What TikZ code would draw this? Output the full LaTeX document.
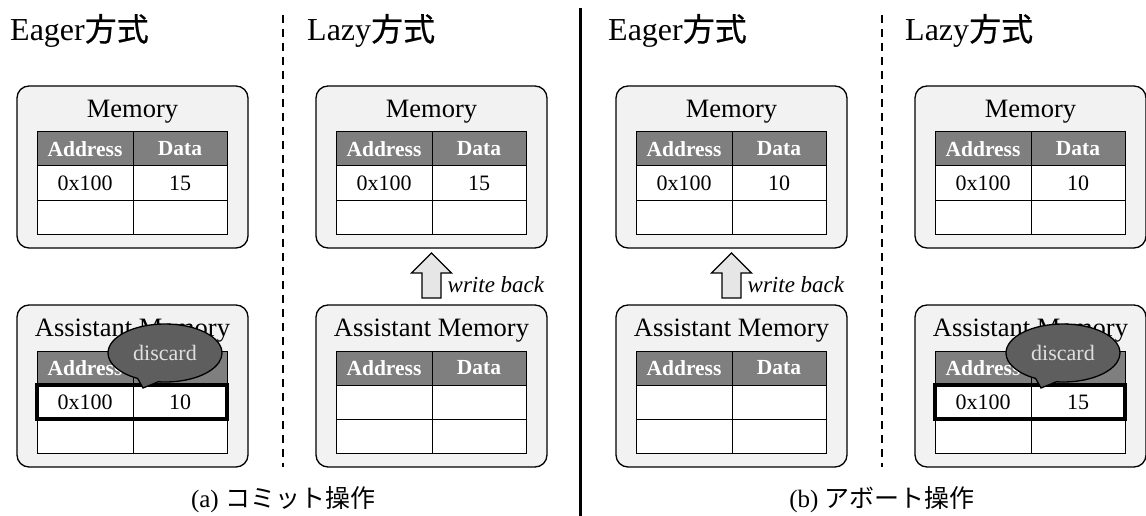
\documentclass[tikz,border=0pt]{standalone}
\usepackage{fontspec}
\setmainfont{Liberation Serif}
\newfontfamily\jp{Noto Sans CJK JP}
\newfontfamily\jph[FakeBold=0.6]{Noto Sans CJK JP}
\usetikzlibrary{calc,shapes.callouts}

\definecolor{boxfill}{HTML}{F2F2F2}
\definecolor{headfill}{HTML}{7F7F7F}
\definecolor{bubble}{HTML}{5E5E5E}
\definecolor{arrowfill}{HTML}{E6E6E6}

\tikzset{
  membox/.style={draw, line width=1.3pt, fill=boxfill, rounded corners=12pt,
    minimum width=231pt, minimum height=162pt, inner sep=0pt, outer sep=0pt},
  boxtitle/.style={font=\fontsize{26.5}{29}\selectfont, inner sep=0pt},
  cell/.style={draw, line width=1pt, fill=white, inner sep=0pt, outer sep=0pt,
    minimum height=34pt, font=\fontsize{22}{24}\selectfont},
  hcell/.style={cell, fill=headfill, text=white, font=\fontsize{21.5}{24}\selectfont\bfseries},
  discardrow/.style={draw, line width=3.5pt},
  bubblenote/.style={ellipse callout, draw, line width=1.3pt, fill=bubble,
    text=white!88!black, minimum width=114pt, minimum height=58pt, inner sep=0pt,
    callout pointer arc=22, font=\fontsize{22}{24}\selectfont},
  blockarrow/.style={draw, line width=1.2pt, fill=arrowfill, line join=miter},
  wblabel/.style={font=\fontsize{23}{26}\selectfont\itshape, inner sep=0pt},
  headline/.style={font=\fontsize{32}{34}\selectfont, inner sep=0pt},
  caption/.style={font=\fontsize{25}{28}\selectfont, inner sep=0pt},
  sepdash/.style={line width=2pt, dash pattern=on 8pt off 6pt},
  sepsolid/.style={line width=3pt},
}

% one memory block: #1 name, #2 left, #3 top, #4 title, #5 address, #6 data
\newcommand{\memunit}[6]{%
  \node[membox, anchor=north west] (#1) at (#2,#3) {};
  \node[boxtitle] (#1-t) at ($(#1.north)+(0,26)$) {#4};
  \node[hcell, anchor=north west, minimum width=96pt] (#1-ha) at ($(#1.north west)+(20,46)$) {Address};
  \node[hcell, anchor=north west, minimum width=94pt] (#1-hd) at (#1-ha.north east) {Data};
  \node[cell, anchor=north west, minimum width=96pt] (#1-a) at (#1-ha.south west) {#5};
  \node[cell, anchor=north west, minimum width=94pt] (#1-d) at (#1-a.north east) {#6};
  \node[cell, anchor=north west, minimum width=96pt] (#1-a2) at (#1-a.south west) {};
  \node[cell, anchor=north west, minimum width=94pt] (#1-d2) at (#1-a2.north east) {};
}

% write-back block arrow from an assistant block up to its memory block
\newcommand{\writeback}[2]{%
  \draw[blockarrow] ($(#1.south)+(0,5)$) -- ++(20,20) -- ++(-10.5,0) -- ++(0,25)
    -- ++(-19,0) -- ++(0,-25) -- ++(-10.5,0) -- cycle;
  \node[wblabel, anchor=base west] (#1-wb) at ($(#1.south)+(16,44)$) {write back};
}

% discarded entry: heavy frame round the row plus the speech bubble
\newcommand{\discard}[1]{%
  \draw[discardrow] (#1-a.north west) rectangle (#1-d.south east);
  \node[bubblenote, callout absolute pointer={($(#1-ha.north east)+(10,37)$)}]
    (#1-note) at ($(#1-ha.north east)+(32,2)$) {discard};
}

\begin{document}
\begin{tikzpicture}[x=1pt,y=-1pt]
\useasboundingbox (0,0) rectangle (1146,516);

% separators
\draw[sepdash] (283,15) -- (283,467);
\draw[sepdash] (882,15) -- (882,467);
\draw[sepsolid] (580,8) -- (580,516);

% headings
\node[headline, anchor=base west] (h1) at (10,41) {Eager{\jph 方式}};
\node[headline, anchor=base west] (h2) at (307,41) {Lazy{\jph 方式}};
\node[headline, anchor=base west] (h3) at (608,41) {Eager{\jph 方式}};
\node[headline, anchor=base west] (h4) at (905,41) {Lazy{\jph 方式}};

% (a) commit, eager
\memunit{m1}{17}{86}{Memory}{0x100}{15}
\memunit{a1}{17}{305}{Assistant Memory}{0x100}{10}
\discard{a1}

% (a) commit, lazy
\memunit{m2}{316}{86}{Memory}{0x100}{15}
\memunit{a2}{316}{305}{Assistant Memory}{}{}
\writeback{m2}{a2}

% (b) abort, eager
\memunit{m3}{616}{86}{Memory}{0x100}{10}
\memunit{a3}{616}{305}{Assistant Memory}{}{}
\writeback{m3}{a3}

% (b) abort, lazy
\memunit{m4}{915}{86}{Memory}{0x100}{10}
\memunit{a4}{915}{305}{Assistant Memory}{0x100}{15}
\discard{a4}

% captions
\node[caption] (capa) at (283,500) {(a) {\jp コミット操作}};
\node[caption] (capb) at (882,500) {(b) {\jp アボート操作}};
\end{tikzpicture}
\end{document}
